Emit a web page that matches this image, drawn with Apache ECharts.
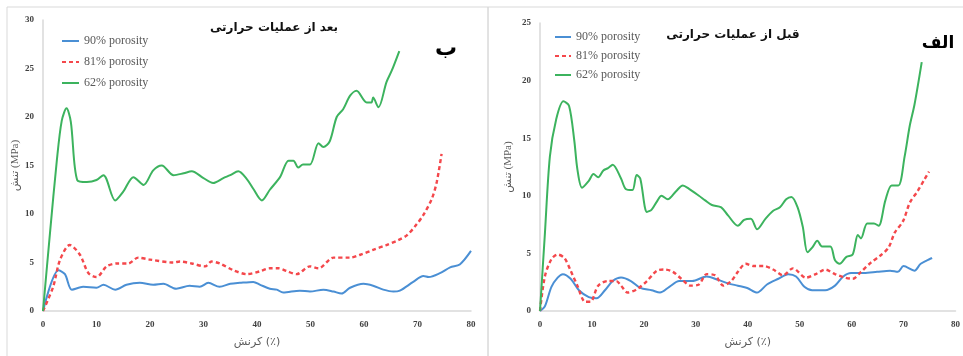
<!DOCTYPE html>
<html><head><meta charset="utf-8">
<script src="https://cdn.jsdelivr.net/npm/echarts@6/dist/echarts.min.js"></script>
<style>html,body{margin:0;padding:0;background:#fff}#c{width:963px;height:356px}</style>
</head><body><div id="c"></div>
<script>
// ---- Panel ب : after heat treatment ----
const afterStrain62 = [0,1.3,2.6,3.5,4.4,5.2,6.4,8.2,10,11.3,13.5,15,16.9,18.8,20.6,22.2,24.4,26.3,27.8,30,31.8,33.7,35,36.5,38.1,39.3,40.9,42.4,44.3,45.9,46.8,47.7,48.6,49.9,51.5,52.4,53.6,54.9,56.1,57.4,58.6,60.5,61.4,61.7,62.7,64.2,65.2,66.6];
const afterStress62 = [0,8,15.6,19.6,20.9,19.5,13.5,13.3,13.5,14.0,11.4,12.3,13.8,13.0,14.5,15.0,14.0,14.2,14.4,13.7,13.2,13.7,14.0,14.4,13.6,12.6,11.4,12.5,13.8,15.5,15.5,14.8,15.1,15.1,17.3,16.9,17.5,20.0,20.8,22.2,22.7,21.5,21.5,22.0,21.0,23.6,24.8,26.8];
const afterStrain81 = [0,1.9,3.2,5.0,6.9,8.5,10,11.9,13.8,15.9,17.8,20,24.4,25.6,27.8,30.3,31.5,33,35.6,38.1,40.6,42.4,44,45.6,47.4,49.9,51.5,54.3,57.4,59.3,61.7,64.2,66.4,68,69.5,71.1,72.7,73.6,74.5];
const afterStress81 = [0,2.5,5.3,6.8,5.8,3.9,3.5,4.6,4.9,4.9,5.5,5.3,5.0,5.1,4.9,4.6,5.1,4.9,4.2,3.8,4.1,4.4,4.4,4.1,3.8,4.6,4.4,5.5,5.5,5.8,6.3,6.8,7.3,7.8,8.7,9.9,11.6,13.3,16.2];
const afterStrain90 = [0,2.9,4.1,5.4,7.5,10,11.3,13.5,15.6,18.1,20.6,22.5,24.9,27.4,29.3,30.9,33,35,36.8,39.3,40.6,42.4,43.7,44.9,48,49.9,52.4,54.3,55.8,57.4,59.9,61.7,63.6,65.5,66.7,69.2,71.1,72.1,74.2,76.1,77.9,80];
const afterStress90 = [0,4.2,3.8,2.2,2.5,2.4,2.7,2.2,2.7,2.9,2.7,2.8,2.3,2.6,2.5,2.9,2.5,2.8,2.9,3.0,2.7,2.3,2.2,1.9,2.1,2.0,2.2,2.0,1.8,2.4,2.8,2.6,2.2,2.0,2.1,3.0,3.6,3.5,3.9,4.5,4.8,6.2];

// ---- Panel الف : before heat treatment ----
const beforeStrain62 = [0,0.94,1.9,3.1,4.5,5.6,6.6,7.2,8.1,9.4,10.3,11.2,12.2,13.1,14,15.6,16.5,17.8,18.6,19.3,20.6,21.5,22.5,23.4,24.6,26.2,27.5,28.7,30.6,31.8,33.1,34.9,36.2,38.1,39.3,40.6,41.8,43.4,44.9,46.2,47.4,48.4,49.6,50.6,51.5,52.4,53.4,54.3,55.9,56.8,57.7,59,60.2,61.2,61.8,63,64.3,65.2,66.5,67.7,69,70.2,71.2,72.1,73.5];
const beforeStress62 = [0,6.7,13.4,16.6,18.2,17.8,14.8,12.3,10.7,11.3,11.9,11.6,12.2,12.4,12.7,11.5,10.6,10.5,11.8,11.5,8.6,8.8,9.5,10.0,9.7,10.4,10.9,10.6,10.0,9.6,9.2,9.0,8.3,7.4,7.9,8.0,7.1,8.0,8.7,9.0,9.7,9.9,9.0,7.3,5.1,5.5,6.1,5.6,5.6,4.4,4.1,4.7,4.9,6.6,6.3,7.6,7.6,7.4,9.6,10.9,10.9,13.4,16.1,17.9,21.6];
const beforeStrain81 = [0,0.94,2.2,3.4,4.7,5.9,7.2,8.7,9.7,11.2,13.1,14.7,15.6,16.9,18.7,20.6,22.5,24,25.6,27.2,29,30.6,32.1,33.7,35.3,36.8,38.1,39.6,41.2,43.1,44.9,46.8,48.7,51.2,53.1,54.9,56.8,58.7,60.2,61.8,63.7,65.5,67.1,68.3,69.9,71.2,72.7,74,74.9];
const beforeStress81 = [0,3.0,4.5,4.9,4.6,3.5,2.2,0.8,0.8,2.2,2.6,2.6,2.2,1.6,1.9,2.6,3.5,3.6,3.4,2.8,2.2,2.3,3.2,3.1,2.2,2.6,3.4,4.1,3.9,3.9,3.6,3.1,3.7,2.9,3.2,3.6,3.2,2.9,2.8,3.4,4.2,4.8,5.5,6.8,7.8,9.4,10.4,11.4,12.1];
const beforeStrain90 = [0,0.94,2.2,3.4,4.4,5.9,7.5,9.4,10.9,12.5,14,15.6,17.5,19.3,21.5,23.1,24.9,26.8,29.3,32.1,34.3,36.2,38.1,39.9,41.8,43.7,45.9,47.8,49.3,50.9,52.4,54.9,56.8,58.4,59.9,62.4,64.9,67.4,68.9,70,72.1,73.3,75.5];
const beforeStress90 = [0,0.4,2.1,2.9,3.2,2.8,1.8,1.2,1.1,1.8,2.6,2.9,2.6,2.0,1.8,1.6,2.1,2.6,2.6,3.0,2.7,2.4,2.2,2.0,1.6,2.3,2.8,3.2,3.0,2.1,1.8,1.8,2.2,3.0,3.3,3.3,3.4,3.5,3.4,3.9,3.5,4.1,4.6];

const seriesNames = ['90% porosity','81% porosity','62% porosity'];
const xTicks = {min:0,max:80,interval:10};
const titles = ['بعد از عملیات حرارتی','قبل از عملیات حرارتی'];
const panelTags = ['ب','الف'];
const yName = 'تنش (MPa)';
const xName = 'کرنش (٪)';

const colors = {'90% porosity':'#4a8fd4','81% porosity':'#f4474b','62% porosity':'#3cb35e'};

function zip(xs, ys){ return xs.map((x,i)=>[x, ys[i]]); }

const arabicFont = 'DejaVu Sans';
const serif = 'Liberation Serif';

function mkSeries(name, data, idx){
  const dashed = name === '81% porosity';
  return {
    name, type:'line', xAxisIndex:idx, yAxisIndex:idx, data, showSymbol:false, symbol:'none',
    smooth:0.3, z: name==='62% porosity'?3:2,
    lineStyle:{color:colors[name], width: dashed?2.4:2, type: dashed?[4,3]:'solid'},
    itemStyle:{color:colors[name]}
  };
}

const axisLabel = {color:'#404040', fontFamily:serif, fontWeight:'bold', fontSize:9};
const axisLine = {show:true, lineStyle:{color:'#d9d9d9', width:1.5}};

function xAxis(idx){
  return {type:'value', gridIndex:idx, min:xTicks.min, max:xTicks.max, interval:xTicks.interval,
    axisLine, axisTick:{show:false}, splitLine:{show:false}, axisLabel:Object.assign({margin:9}, axisLabel),
    name:xName, nameLocation:'middle', nameGap:26,
    nameTextStyle:{color:'#595959', fontFamily:arabicFont, fontSize:11}};
}
function yAxis(idx, max){
  return {type:'value', gridIndex:idx, min:0, max, interval:5,
    axisLine, axisTick:{show:false}, splitLine:{show:false}, axisLabel:Object.assign({margin:9}, axisLabel),
    name:yName, nameLocation:'middle', nameGap: idx===0?17:26,
    nameTextStyle:{color:'#595959', fontFamily:'"Liberation Serif", "DejaVu Sans"', fontSize:11}};
}

const legendText = {color:'#595959', fontFamily:serif, fontSize:12};
const legendCommon = {data:seriesNames, orient:'vertical', padding:0, itemHeight:10,
  itemStyle:{opacity:0, color:'rgba(0,0,0,0)', borderWidth:0}, textStyle:legendText};

const option = {
  animation:false,
  grid:[
    {left:43, top:20, width:428, height:291},
    {left:540, top:23, width:427, height:288}
  ],
  xAxis:[xAxis(0), xAxis(1)],
  yAxis:[yAxis(0,30), yAxis(1,25)],
  legend:[
    Object.assign({left:61, top:35, itemWidth:17, itemGap:9}, legendCommon),
    Object.assign({left:554, top:31, itemWidth:16, itemGap:7}, legendCommon)
  ],
  graphic:[
    {type:'rect', shape:{x:7,y:7,width:481,height:360}, style:{fill:'none', stroke:'#d9d9d9', lineWidth:1}, silent:true, z:-1},
    {type:'rect', shape:{x:488,y:7,width:490,height:360}, style:{fill:'none', stroke:'#d9d9d9', lineWidth:1}, silent:true, z:-1},
    {type:'text', x:274, y:28, style:{text:titles[0], font:'bold 12px "DejaVu Sans"', fill:'#111', textAlign:'center', textVerticalAlign:'middle'}},
    {type:'text', x:733, y:35, style:{text:titles[1], font:'bold 12px "DejaVu Sans"', fill:'#111', textAlign:'center', textVerticalAlign:'middle'}},
    {type:'text', x:446, y:49, style:{text:panelTags[0], font:'bold 22px "DejaVu Sans"', fill:'#000', textAlign:'center', textVerticalAlign:'middle'}},
    {type:'text', x:938, y:44, style:{text:panelTags[1], font:'bold 17px "DejaVu Sans"', fill:'#000', textAlign:'center', textVerticalAlign:'middle'}}
  ],
  series:[
    mkSeries('90% porosity', zip(afterStrain90, afterStress90), 0),
    mkSeries('81% porosity', zip(afterStrain81, afterStress81), 0),
    mkSeries('62% porosity', zip(afterStrain62, afterStress62), 0),
    mkSeries('90% porosity', zip(beforeStrain90, beforeStress90), 1),
    mkSeries('81% porosity', zip(beforeStrain81, beforeStress81), 1),
    mkSeries('62% porosity', zip(beforeStrain62, beforeStress62), 1)
  ]
};
const chart = echarts.init(document.getElementById('c'), null, {renderer:'canvas'});
chart.setOption(option);
</script></body></html>
